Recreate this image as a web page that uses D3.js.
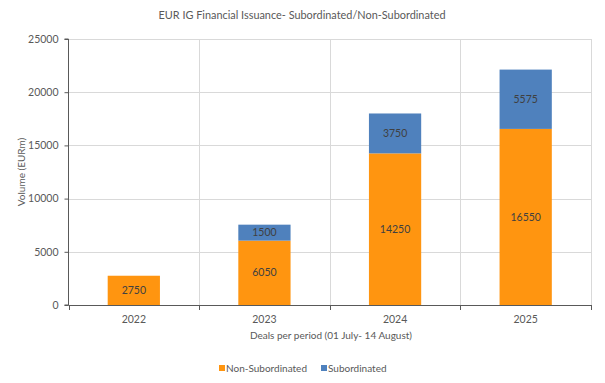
<!DOCTYPE html>
<html><head><meta charset="utf-8">
<script src="https://cdn.jsdelivr.net/npm/d3@7"></script>
<style>body{margin:0;background:#fff}svg{display:block}text{font-family:Lato,"Open Sans",sans-serif;fill:#595959}</style>
</head><body>
<svg id="c" width="605" height="383"></svg>
<script>
const categories = ["2022","2023","2024","2025"];
const nonSubordinated = [2750, 6050, 14250, 16550];
const subordinated = [0, 1500, 3750, 5575];
const yTicks = [0, 5000, 10000, 15000, 20000, 25000];
const seriesNames = ["Non-Subordinated","Subordinated"];
const colors = ["#FF9510","#4F81BD"];
const FONT = 'Lato,"Open Sans",sans-serif';

const svg = d3.select("#c");
const L = 68.5, R = 591, T = 39, B = 305;
const x = d3.scaleBand().domain(categories).range([L, R]).paddingInner(0.6).paddingOuter(0.3);
const y = d3.scaleLinear().domain([0, 25000]).range([B, T]);
const step = x.step();
const bounds = d3.range(categories.length + 1).map(i => L + i * step);

// gridlines
svg.append("g").selectAll("line").data(yTicks.slice(1)).join("line")
  .attr("x1", L).attr("x2", R).attr("y1", d => Math.round(y(d)) + 0.5).attr("y2", d => Math.round(y(d)) + 0.5)
  .attr("stroke", "#d9d9d9");
svg.append("g").selectAll("line").data(bounds.slice(1)).join("line")
  .attr("x1", d => Math.round(d) + 0.5).attr("x2", d => Math.round(d) + 0.5).attr("y1", T).attr("y2", B)
  .attr("stroke", "#d9d9d9");

// stacked bars
const data = categories.map((c, i) => ({cat: c, "Non-Subordinated": nonSubordinated[i], "Subordinated": subordinated[i]}));
const stack = d3.stack().keys(seriesNames)(data);
stack.forEach((s, si) => {
  const g = svg.append("g");
  g.selectAll("rect").data(s).join("rect")
    .attr("x", d => x(d.data.cat)).attr("width", x.bandwidth())
    .attr("y", d => y(d[1])).attr("height", d => y(d[0]) - y(d[1]))
    .attr("fill", colors[si]);
  g.selectAll("text").data(s.filter(d => d[1] - d[0] > 0)).join("text")
    .attr("x", d => x(d.data.cat) + x.bandwidth() / 2)
    .attr("y", d => (y(d[0]) + y(d[1])) / 2)
    .attr("dy", "0.35em").attr("text-anchor", "middle")
    .style("font-size", "10.5px").style("fill", "#404040")
    .text(d => d[1] - d[0]);
});

// y axis
const ya = svg.append("g").attr("transform", `translate(${L},0)`)
  .call(d3.axisLeft(y).tickValues(yTicks).tickSize(4).tickPadding(6).tickFormat(d3.format("d")));
ya.select(".domain").attr("stroke", "#595959").attr("d", `M-4,${T}H0V${B}H-4`);
ya.selectAll(".tick line").attr("stroke", "#595959");
ya.selectAll("text").style("font-size", "10.5px").style("fill", "#595959").style("font-family", FONT);

// x axis
const xa = svg.append("g").attr("transform", `translate(0,${B})`)
  .call(d3.axisBottom(x).tickSize(0).tickPadding(11));
xa.select(".domain").remove();
xa.selectAll("text").style("font-size", "10.5px").style("fill", "#595959").style("font-family", FONT);
svg.append("line").attr("x1", L).attr("x2", R).attr("y1", B + 0.5).attr("y2", B + 0.5).attr("stroke", "#595959");
svg.append("g").selectAll("line").data(bounds).join("line")
  .attr("x1", d => Math.round(d) + 0.5).attr("x2", d => Math.round(d) + 0.5).attr("y1", B).attr("y2", B + 5)
  .attr("stroke", "#595959");

// titles
svg.append("text").attr("x", 302).attr("y", 19).attr("text-anchor", "middle").style("font-size", "10.9px")
  .text("EUR IG Financial Issuance- Subordinated/Non-Subordinated");
svg.append("text").attr("x", 331).attr("y", 339).attr("text-anchor", "middle").style("font-size", "10px")
  .text("Deals per period (01 July- 14 August)");
svg.append("text").attr("transform", `translate(25,${(T + B) / 2}) rotate(-90)`).attr("text-anchor", "middle").style("font-size", "10px")
  .text("Volume (EURm)");

// legend
const lg = svg.append("g");
const legX = [219, 321];
seriesNames.forEach((n, i) => {
  lg.append("rect").attr("x", legX[i]).attr("y", 365).attr("width", 6).attr("height", 6).attr("fill", colors[i]);
  lg.append("text").attr("x", legX[i] + 7).attr("y", 368).attr("dy", "0.35em").style("font-size", "10px").text(n);
});
</script>
</body></html>
